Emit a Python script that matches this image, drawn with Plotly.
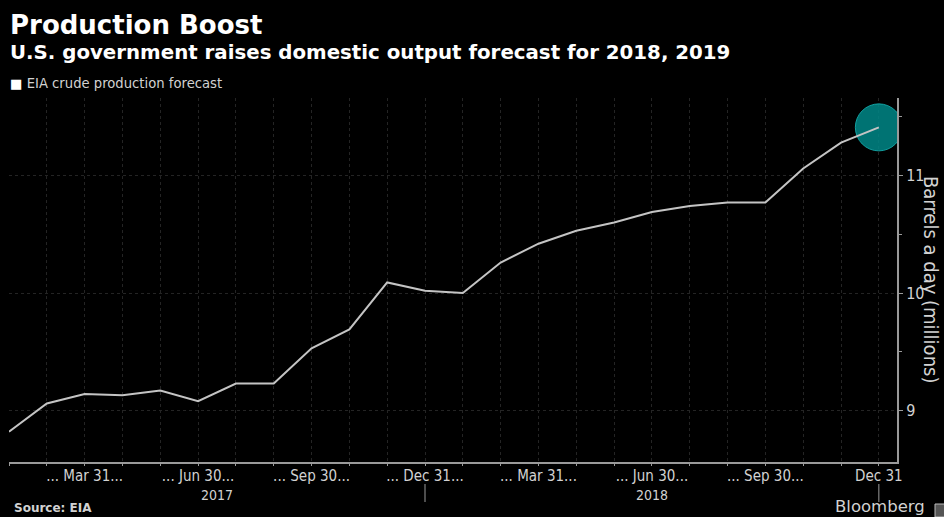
import plotly.graph_objects as go

# ---- data ----
months = ["2017-01-31", "2017-02-28", "2017-03-31", "2017-04-30", "2017-05-31", "2017-06-30",
          "2017-07-31", "2017-08-31", "2017-09-30", "2017-10-31", "2017-11-30", "2017-12-31",
          "2018-01-31", "2018-02-28", "2018-03-31", "2018-04-30", "2018-05-31", "2018-06-30",
          "2018-07-31", "2018-08-31", "2018-09-30", "2018-10-31", "2018-11-30", "2018-12-31"]
production = [8.82, 9.06, 9.14, 9.13, 9.17, 9.08, 9.23, 9.23, 9.53, 9.69, 10.09, 10.02,
              10.00, 10.26, 10.42, 10.53, 10.60, 10.69, 10.74, 10.77, 10.77, 11.06, 11.28, 11.41]
tick_labels = {"2017-03-31": "... Mar 31...", "2017-06-30": "... Jun 30...",
               "2017-09-30": "... Sep 30...", "2017-12-31": "... Dec 31...",
               "2018-03-31": "... Mar 31...", "2018-06-30": "... Jun 30...",
               "2018-09-30": "... Sep 30...", "2018-12-31": "Dec 31"}
years = ["2017", "2018"]
y_ticks = [9, 10, 11]

idx = list(range(len(months)))
ticktext = [tick_labels.get(m, "") for m in months]
year_end_idx = [i for i, m in enumerate(months) if m.endswith("12-31")]
year_bounds = [0] + year_end_idx
year_mid = [(year_bounds[k] + year_bounds[k + 1]) / 2 for k in range(len(years))]

# ---- geometry helpers (figure pixels -> paper coords) ----
W, H = 944, 517
L, R, T, B = 9, 897, 98, 462


def px_x(x):
    return (x - L) / (R - L)


def px_y(y):
    return (B - y) / (B - T)


GRID = "#242424"
AXIS = "#9a9a9a"
TXT = "#d2d2d2"
COND = "DejaVu Sans Condensed, DejaVu Sans"

fig = go.Figure()
fig.add_trace(go.Scatter(x=[idx[-1]], y=[production[-1]], mode="markers",
                         marker=dict(size=47, color="rgba(0,135,135,0.85)",
                                     line=dict(width=1, color="rgba(20,170,170,0.9)")),
                         cliponaxis=True, showlegend=False, hoverinfo="skip"))
fig.add_trace(go.Scatter(x=idx, y=production, mode="lines",
                         line=dict(color="#c4c4c4", width=2),
                         showlegend=False, name="EIA crude production forecast"))

fig.update_layout(
    width=W, height=H,
    margin=dict(l=L, r=W - R, t=T, b=H - B),
    paper_bgcolor="#000000", plot_bgcolor="#000000",
    font=dict(family="DejaVu Sans", color=TXT),
    xaxis=dict(range=[0, len(months) - 1 + 0.48], tickvals=idx, ticktext=ticktext,
               showgrid=True, gridcolor=GRID, griddash="dot", gridwidth=1,
               zeroline=False, showline=True, linecolor=AXIS, linewidth=2,
               ticks="outside", ticklen=2, tickcolor=AXIS, tickangle=0,
               ticklabelstandoff=-3,
               tickfont=dict(family=COND, size=15, color=TXT)),
    yaxis=dict(range=[8.562, 11.66], side="right", tickvals=y_ticks,
               showgrid=True, gridcolor=GRID, griddash="dot", gridwidth=1,
               zeroline=False, showline=True, linecolor=AXIS, linewidth=2,
               ticks="outside", ticklen=4, tickcolor=AXIS,
               minor=dict(dtick=0.5, ticks="outside", ticklen=3, tickcolor=AXIS, showgrid=False),
               tickfont=dict(family=COND, size=16, color=TXT)),
)

ann = []
ann.append(dict(text="<b>Production Boost</b>", x=px_x(8), y=px_y(25), xref="paper", yref="paper",
                xanchor="left", yanchor="middle", showarrow=False,
                font=dict(family="DejaVu Sans", size=26, color="#ffffff")))
ann.append(dict(text="<b>U.S. government raises domestic output forecast for 2018, 2019</b>",
                x=px_x(8), y=px_y(52), xref="paper", yref="paper",
                xanchor="left", yanchor="middle", showarrow=False,
                font=dict(family="DejaVu Sans", size=19.8, color="#ffffff")))
ann.append(dict(text="<span style='color:#ffffff'>■</span> EIA crude production forecast",
                x=px_x(8), y=px_y(84), xref="paper", yref="paper",
                xanchor="left", yanchor="middle", showarrow=False,
                font=dict(family="DejaVu Sans", size=13.2, color=TXT)))
ann.append(dict(text="Barrels a day (millions)", x=px_x(931), y=px_y(279), xref="paper", yref="paper",
                xanchor="center", yanchor="middle", textangle=90, showarrow=False,
                font=dict(family=COND, size=20, color=TXT)))
for yr, xm in zip(years, year_mid):
    ann.append(dict(text=yr, x=xm, y=px_y(495), xref="x", yref="paper",
                    xanchor="center", yanchor="middle", showarrow=False,
                    font=dict(family=COND, size=14, color=TXT)))
ann.append(dict(text="<b>Source: EIA</b>", x=px_x(12), y=px_y(508), xref="paper", yref="paper",
                xanchor="left", yanchor="middle", showarrow=False,
                font=dict(family="DejaVu Sans", size=12, color=TXT)))
ann.append(dict(text="Bloomberg", x=px_x(927), y=px_y(506), xref="paper", yref="paper",
                xanchor="right", yanchor="middle", showarrow=False,
                font=dict(family="DejaVu Sans", size=16.5, color=TXT)))
fig.update_layout(annotations=ann)

shapes = []
for i in year_end_idx:
    shapes.append(dict(type="line", xref="x", yref="paper", x0=i, x1=i,
                       y0=px_y(484), y1=px_y(502), line=dict(color=AXIS, width=1)))
shapes.append(dict(type="rect", xref="paper", yref="paper", x0=px_x(935), x1=px_x(946),
                   y0=px_y(517), y1=px_y(504), line=dict(color="#bbbbbb", width=1),
                   fillcolor="#555555"))
fig.update_layout(shapes=shapes)

fig.write_html("out.html")
